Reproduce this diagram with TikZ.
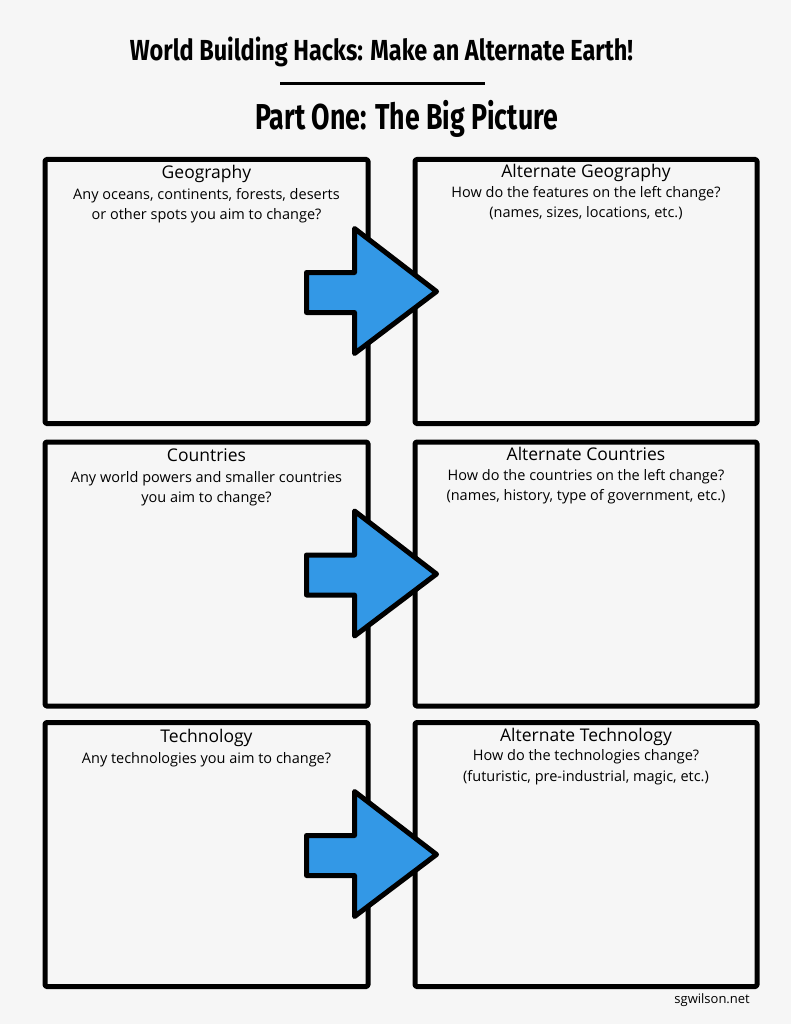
\documentclass[tikz,border=0pt]{standalone}
\usepackage{graphicx}
\usepackage{fontspec}
\setmainfont{Open Sans}
\newfontfamily\titlefont{Fira Sans}
\usetikzlibrary{positioning}
\definecolor{paper}{HTML}{F6F6F6}
\definecolor{arrowblue}{HTML}{3398E6}
\tikzset{
  panel/.style={draw=black, line width=5pt, line join=round, rounded corners=1.5pt, inner sep=0pt},
  leftpanel/.style={panel, minimum width=323pt, minimum height=264pt},
  rightpanel/.style={panel, minimum width=342pt, minimum height=264pt},
  heading/.style={inner sep=0pt, anchor=base, font=\fontsize{17.5}{20}\selectfont},
  question/.style={inner sep=0pt, anchor=base, align=center, font=\fontsize{14.5}{20.5}\selectfont},
  bluearrow/.style={fill=arrowblue, draw=black, line width=5pt, line join=round}
}
\begin{document}
\begin{tikzpicture}[x=1pt,y=-1pt]

\path[use as bounding box, fill=paper] (0,0) rectangle (791,1024);

\node[anchor=base] (title) at (381.5,60.5) {\titlefont\bfseries\fontsize{29}{30}\selectfont\resizebox{503pt}{\height}{World Building Hacks: Make an Alternate Earth!}};
\draw[line width=3pt] (280,83.5) -- (485,83.5);
\node[anchor=base] (part) at (406.5,130) {\titlefont\bfseries\fontsize{36}{40}\selectfont\resizebox{303pt}{\height}{Part One: The Big Picture}};

% -- row 1
\node[leftpanel] (geo) at (206.5,291.5) {};
\node[rightpanel] (altgeo) at (586,291.5) {};
\node[heading] (geoH) at ([yshift=-22pt]geo.north) {Geography};
\node[question] (geoQ) at ([yshift=-63pt]geo.north) {Any oceans, continents, forests, deserts\\or other spots you aim to change?};
\node[heading] (altgeoH) at ([yshift=-21pt]altgeo.north) {Alternate Geography};
\node[question] (altgeoQ) at ([yshift=-61pt]altgeo.north) {How do the features on the left change?\\(names, sizes, locations, etc.)};

% -- row 2
\node[leftpanel] (land) at (206.5,574) {};
\node[rightpanel] (altland) at (586,574) {};
\node[heading] (landH) at ([yshift=-22pt]land.north) {Countries};
\node[question] (landQ) at ([yshift=-63pt]land.north) {Any world powers and smaller countries\\you aim to change?};
\node[heading] (altlandH) at ([yshift=-21pt]altland.north) {Alternate Countries};
\node[question] (altlandQ) at ([yshift=-61pt]altland.north) {How do the countries on the left change?\\(names, history, type of government, etc.)};

% -- row 3
\node[leftpanel] (tech) at (206.5,854.5) {};
\node[rightpanel] (alttech) at (586,854.5) {};
\node[heading] (techH) at ([yshift=-22pt]tech.north) {Technology};
\node[question] (techQ) at ([yshift=-43pt]tech.north) {Any technologies you aim to change?};
\node[heading] (alttechH) at ([yshift=-21pt]alttech.north) {Alternate Technology};
\node[question] (alttechQ) at ([yshift=-61pt]alttech.north) {How do the technologies change?\\(futuristic, pre-industrial, magic, etc.)};

% -- draw arrows
\draw[bluearrow] ([xshift=24pt]altgeo.west) -- ++(-82,-63) -- ++(0,44) -- ++(-48,0) -- ++(0,40) -- ++(48,0) -- ++(0,41) -- cycle;
\draw[bluearrow] ([xshift=24pt]altland.west) -- ++(-82,-63) -- ++(0,44) -- ++(-48,0) -- ++(0,40) -- ++(48,0) -- ++(0,41) -- cycle;
\draw[bluearrow] ([xshift=24pt]alttech.west) -- ++(-82,-63) -- ++(0,44) -- ++(-48,0) -- ++(0,40) -- ++(48,0) -- ++(0,41) -- cycle;

\node[anchor=base east, inner sep=0pt, font=\fontsize{13}{15}\selectfont] (site) at (750,1003) {sgwilson.net};
\end{tikzpicture}
\end{document}
